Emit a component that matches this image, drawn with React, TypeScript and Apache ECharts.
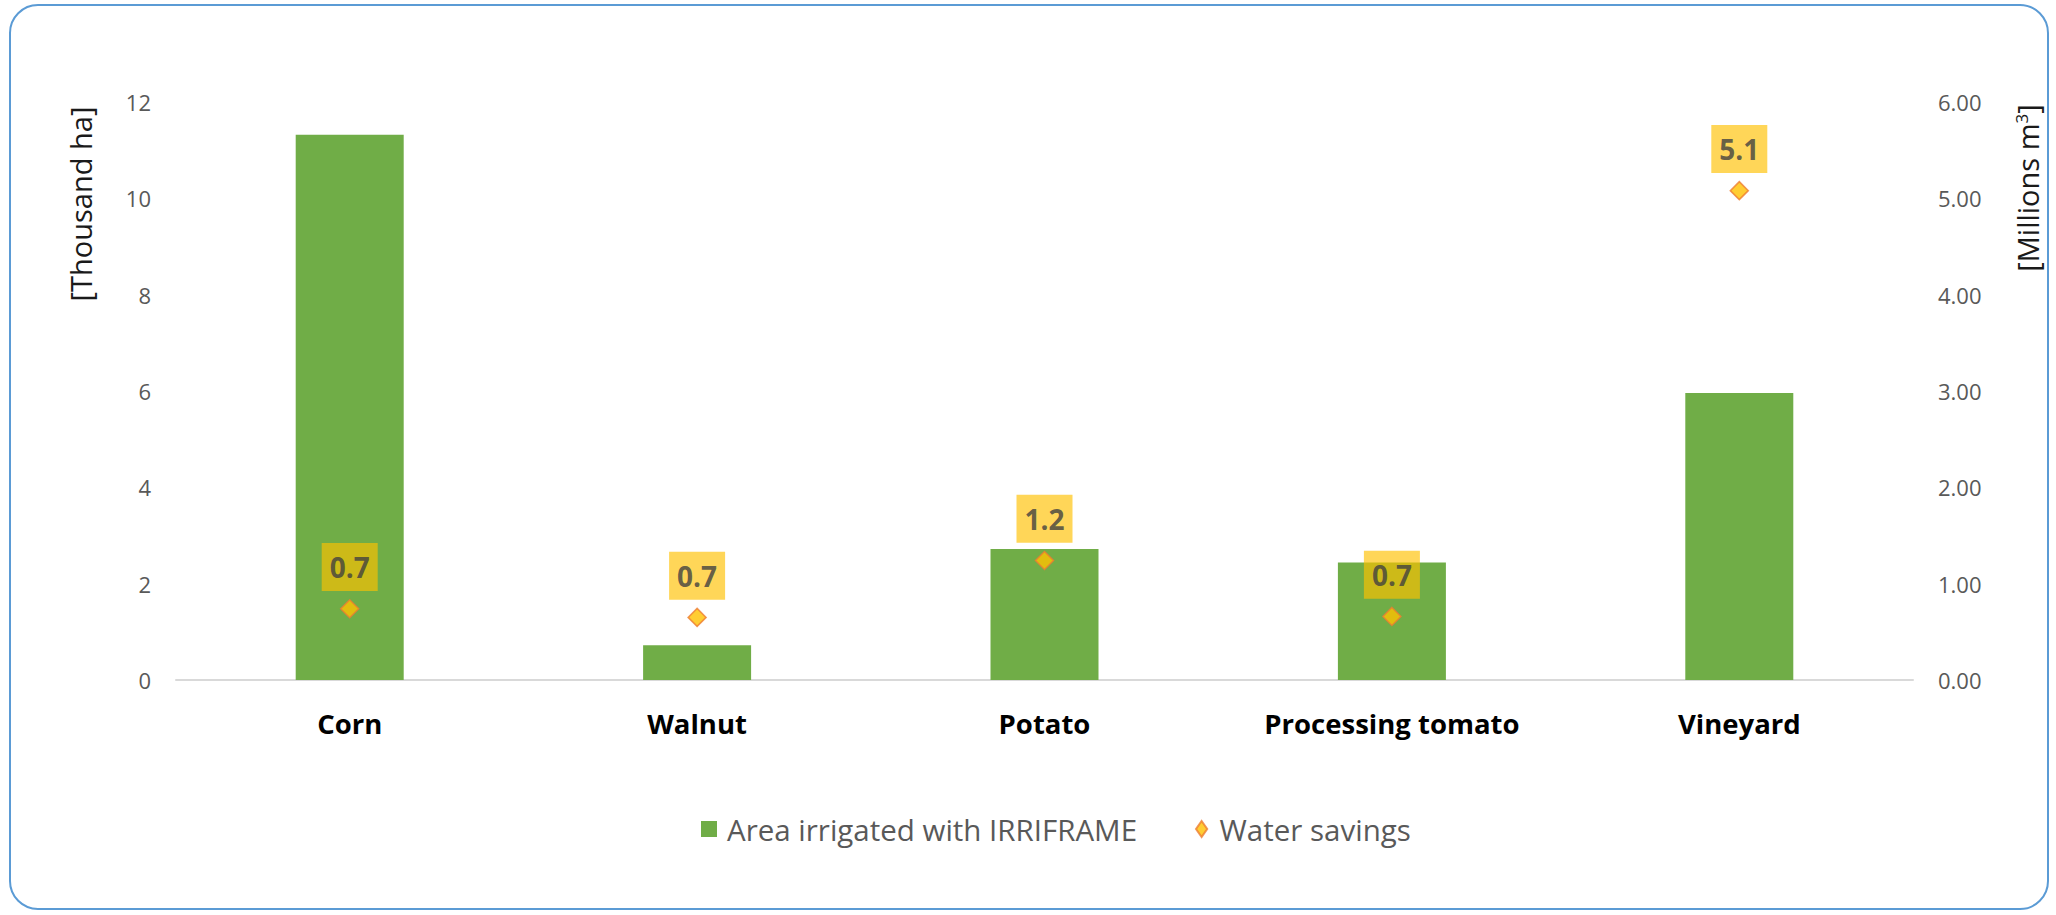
import React, { useEffect, useRef } from "react";
import * as echarts from "echarts";

const categories = ["Corn", "Walnut", "Potato", "Processing tomato", "Vineyard"];
const areaIrrigated = [11.32, 0.72, 2.72, 2.44, 5.96];
const waterSavings = [0.74, 0.65, 1.24, 0.66, 5.08];
const leftTicks = { min: 0, max: 12, interval: 2 };
const rightTicks = { min: 0, max: 6, interval: 1 };
const seriesNames = ["Area irrigated with IRRIFRAME", "Water savings"];

const FONT = "'Open Sans', sans-serif";

export default function App() {
  const ref = useRef<HTMLDivElement>(null);
  useEffect(() => {
    if (!ref.current) return;
    const chart = echarts.init(ref.current, undefined, { renderer: "svg" });
    chart.setOption({
      animation: false,
      backgroundColor: "#ffffff",
      textStyle: { fontFamily: FONT },
      grid: { left: 176, right: 143, top: 102, bottom: 235, containLabel: false },
      legend: {
        left: 696,
        top: 809,
        itemWidth: 26,
        itemHeight: 16,
        itemGap: 58,
        textStyle: { fontFamily: FONT, fontSize: 29.5, color: "#595959" },
        data: [
          { name: seriesNames[0], icon: "path://M0,0L16,0L16,16L0,16Z" },
          { name: seriesNames[1], icon: "path://M8,0L15,10L8,20L1,10Z" },
        ],
      },
      xAxis: {
        type: "category",
        data: categories,
        axisLine: { show: true, lineStyle: { color: "#D9D9D9", width: 2 } },
        axisTick: { show: false },
        axisLabel: {
          margin: 29,
          fontFamily: FONT,
          fontSize: 27.5,
          fontWeight: "bold",
          color: "#000000",
        },
      },
      yAxis: [
        {
          type: "value",
          min: leftTicks.min,
          max: leftTicks.max,
          interval: leftTicks.interval,
          axisLine: { show: false },
          axisTick: { show: false },
          splitLine: { show: false },
          axisLabel: { margin: 25, fontFamily: FONT, fontSize: 22, color: "#595959" },
        },
        {
          type: "value",
          min: rightTicks.min,
          max: rightTicks.max,
          interval: rightTicks.interval,
          axisLine: { show: false },
          axisTick: { show: false },
          splitLine: { show: false },
          axisLabel: {
            margin: 25,
            fontFamily: FONT,
            fontSize: 22,
            color: "#595959",
            formatter: (v: number) => v.toFixed(2),
          },
        },
      ],
      series: [
        {
          name: seriesNames[0],
          type: "bar",
          data: areaIrrigated,
          barWidth: 108,
          itemStyle: { color: "#70AD47" },
        },
        {
          name: seriesNames[1],
          type: "scatter",
          yAxisIndex: 1,
          data: waterSavings,
          symbol: "diamond",
          symbolSize: 18,
          itemStyle: { color: "#FFC000", borderColor: "#ED7D31", borderWidth: 1.5 },
          label: {
            show: true,
            position: "top",
            distance: 8,
            formatter: (p: any) => Number(p.value).toFixed(1),
            fontFamily: FONT,
            fontSize: 28,
            fontWeight: "bold",
            color: "#404040",
            lineHeight: 28,
            backgroundColor: "rgba(255,192,0,0.82)",
            padding: [10, 8, 10, 8],
          },
          z: 5,
        },
      ],
      graphic: [
        {
          type: "rect",
          shape: { x: 10, y: 5, width: 2038, height: 904, r: 28 },
          style: { fill: "none", stroke: "#5B9BD5", lineWidth: 2 },
          silent: true,
        },
        {
          type: "text",
          x: 80,
          y: 204,
          rotation: Math.PI / 2,
          style: {
            text: "[Thousand ha]",
            fontFamily: FONT,
            fontSize: 29,
            fill: "#1a1a1a",
            align: "center",
            verticalAlign: "middle",
          },
        },
        {
          type: "text",
          x: 2027,
          y: 188,
          rotation: Math.PI / 2,
          style: {
            text: "[Millions m{sup|3}]",
            fontFamily: FONT,
            fontSize: 29,
            fill: "#1a1a1a",
            align: "center",
            verticalAlign: "middle",
            rich: {
              sup: { fontFamily: FONT, fontSize: 17, fill: "#1a1a1a", verticalAlign: "top", padding: [0, 0, 12, 0] },
            },
          },
        },
      ],
    });
    return () => chart.dispose();
  }, []);
  return (
    <div
      ref={ref}
      style={{ position: "fixed", left: 0, top: 0, width: 2056, height: 915 }}
    />
  );
}
